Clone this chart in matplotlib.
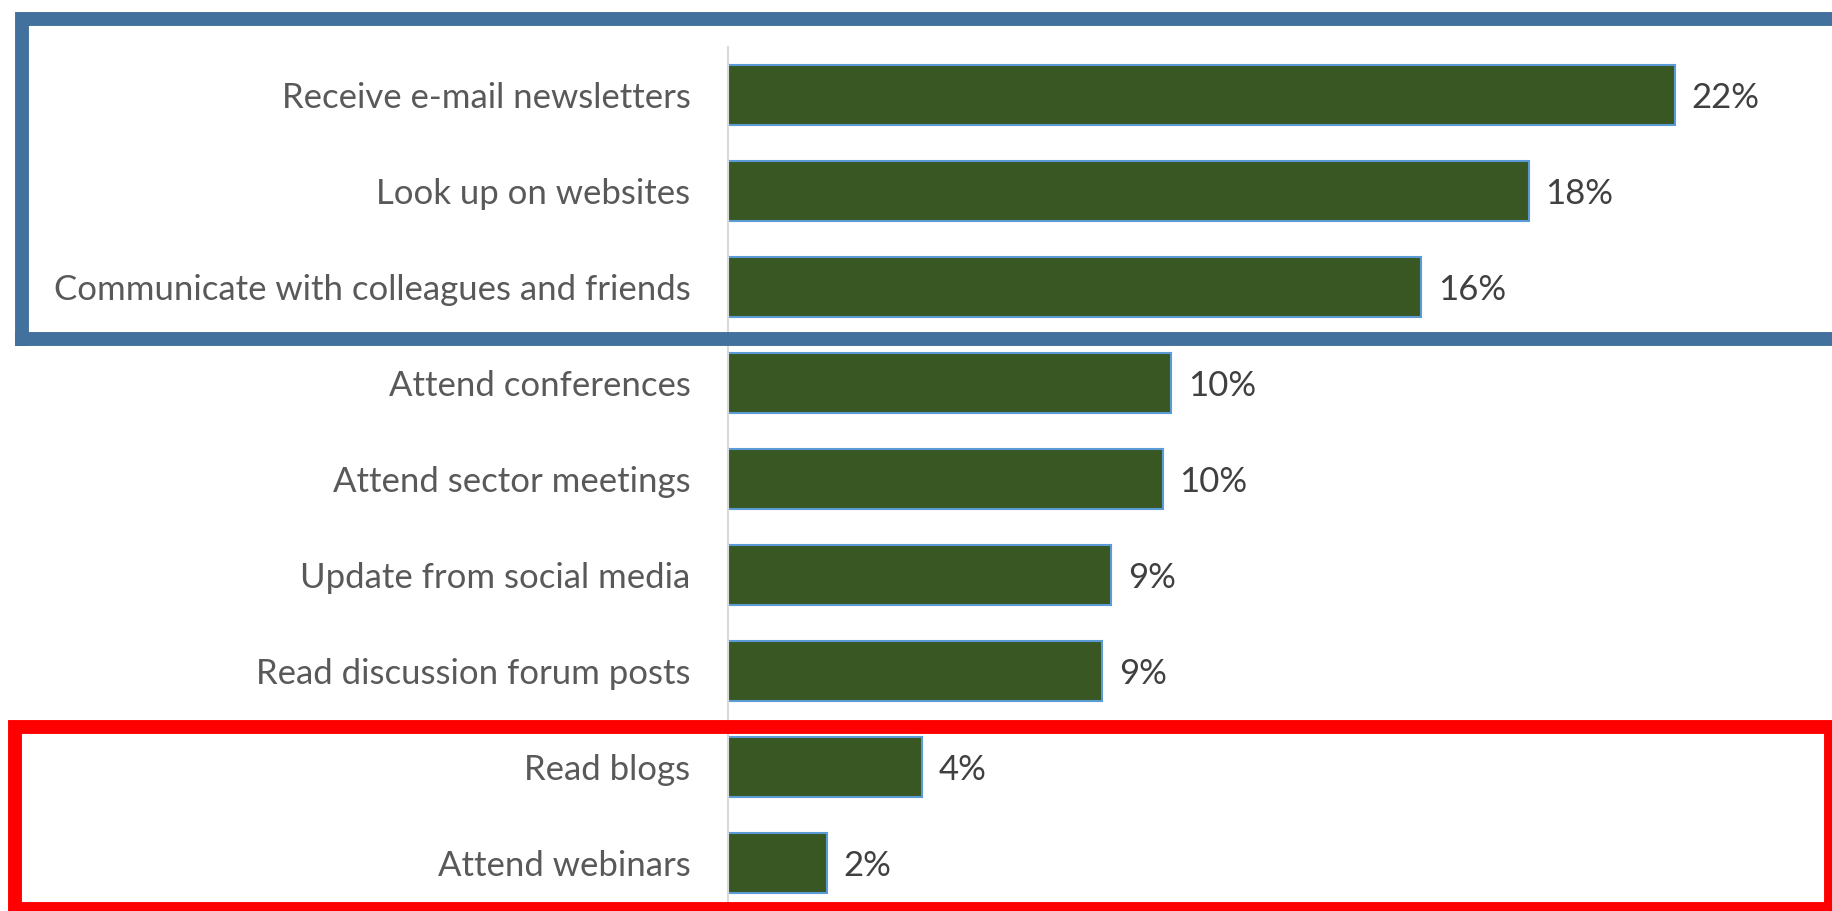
import matplotlib.pyplot as plt
from matplotlib.patches import Rectangle

categorias = [
    "Receive e-mail newsletters",
    "Look up on websites",
    "Communicate with colleagues and friends",
    "Attend conferences",
    "Attend sector meetings",
    "Update from social media",
    "Read discussion forum posts",
    "Read blogs",
    "Attend webinars",
]
valores = [22.0, 18.6, 16.1, 10.3, 10.1, 8.9, 8.7, 4.5, 2.3]
etiquetas = ["22%", "18%", "16%", "10%", "10%", "9%", "9%", "4%", "2%"]

W, H = 1833, 911
fig = plt.figure(figsize=(W / 100, H / 100), dpi=100)
plt.rcParams["font.family"] = ["Lato", "DejaVu Sans"]

# ejes: linea vertical en x=728 px, 22% termina en x=1675 px
x0, x22 = 728, 1675
ax = fig.add_axes([x0 / W, 0, 1 - x0 / W, 1 - 47 / H])
xmax = 22.0 * (W - x0) / (x22 - x0)

pos = list(range(len(categorias)))
ax.barh(pos, valores, height=0.63, color="#385723", edgecolor="#5B9BD5", linewidth=1.5)
ax.set_ylim(len(categorias) - 0.5, -0.5)
ax.set_xlim(0, xmax)

for p, v, e in zip(pos, valores, etiquetas):
    ax.annotate(e, (v, p), xytext=(12, 0), textcoords="offset points",
                va="center_baseline", ha="left", fontsize=25, color="#404040")

ax.set_yticks(pos)
ax.set_yticklabels(categorias, fontsize=25, color="#595959")
ax.tick_params(axis="y", length=0, pad=27)
ax.set_xticks([])
for s in ["top", "right", "bottom"]:
    ax.spines[s].set_visible(False)
ax.spines["left"].set_color("#D9D9D9")
ax.spines["left"].set_linewidth(1.5)

def caja(x1, y1, x2, y2, color):
    # coordenadas en pixeles (origen arriba a la izquierda)
    r = Rectangle((x1 / W, 1 - y2 / H), (x2 - x1) / W, (y2 - y1) / H,
                  transform=fig.transFigure, fill=False, edgecolor=color,
                  linewidth=10, clip_on=False, joinstyle="miter",
                  capstyle="projecting")
    fig.patches.append(r)

caja(22, 19, 1860, 339, "#41719C")
caja(15, 727, 1831, 909, "#FF0000")

fig.savefig("out.png", dpi=100)
